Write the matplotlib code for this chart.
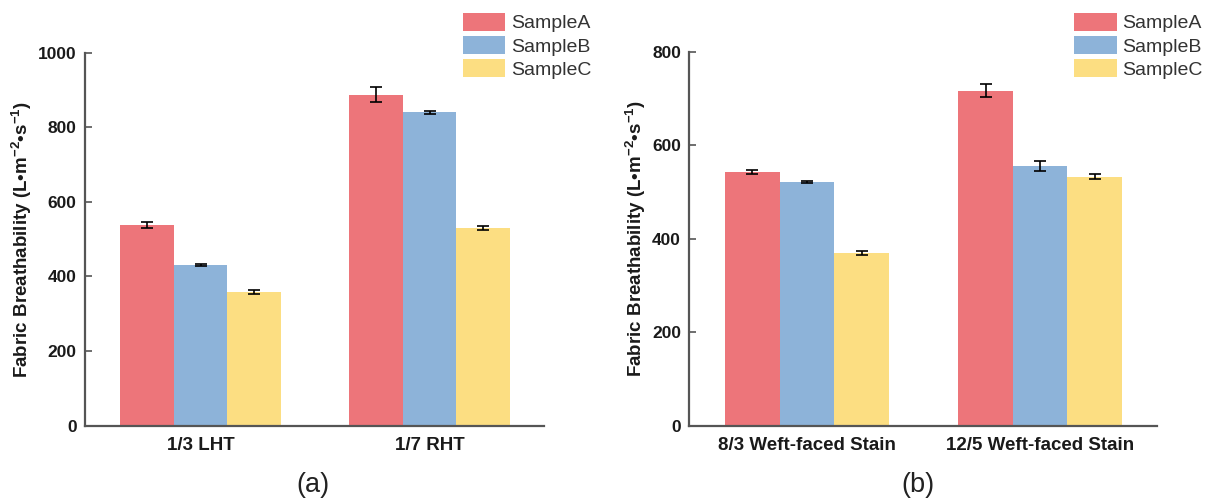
import numpy as np
import matplotlib
matplotlib.use("Agg")
import matplotlib.pyplot as plt

plt.rcParams['font.family'] = ['Liberation Sans', 'DejaVu Sans']
plt.rcParams['mathtext.fontset'] = 'custom'
plt.rcParams['mathtext.rm'] = 'Liberation Sans'
plt.rcParams['mathtext.bf'] = 'Liberation Sans:bold'

# ---- data (a) ----
cats_a = ['1/3 LHT', '1/7 RHT']
a_sampleA = [538, 887]
a_sampleB = [430, 840]
a_sampleC = [359, 531]
a_errA = [7, 20]
a_errB = [3, 5]
a_errC = [5, 5]

# ---- data (b) ----
cats_b = ['8/3 Weft-faced Stain', '12/5 Weft-faced Stain']
b_sampleA = [543, 717]
b_sampleB = [521, 556]
b_sampleC = [370, 533]
b_errA = [4, 13]
b_errB = [2, 11]
b_errC = [4, 6]

series_names = ['SampleA', 'SampleB', 'SampleC']
colors = ['#ED757A', '#8DB3D9', '#FCDE82']
spine_col = '#555555'

fig = plt.figure(figsize=(12.09, 5.03), dpi=100)
ax1 = fig.add_axes([0.0703, 0.1537, 0.3797, 0.7415])
ax2 = fig.add_axes([0.5701, 0.1531, 0.3866, 0.7441])


def draw(ax, cats, vals, errs, ymax, legend_x):
    x = np.arange(len(cats))
    w = 0.234
    for i, (v, e) in enumerate(zip(vals, errs)):
        ax.bar(x + (i - 1) * w, v, w, color=colors[i], label=series_names[i],
               yerr=e, capsize=4.5,
               error_kw=dict(ecolor='black', elinewidth=1.2, capthick=1.2))
    ax.set_xlim(-0.505, 1.5)
    ax.set_ylim(0, ymax)
    ax.set_yticks(np.arange(0, ymax + 1, 200))
    ax.set_xticks(x)
    ax.set_xticklabels(cats)
    for s in ['top', 'right']:
        ax.spines[s].set_visible(False)
    for s in ['left', 'bottom']:
        ax.spines[s].set_color(spine_col)
        ax.spines[s].set_linewidth(1.6)
    ax.tick_params(axis='y', direction='in', length=5, width=1.2, color=spine_col,
                   pad=6, labelsize=12.5)
    ax.tick_params(axis='x', length=0, pad=8, labelsize=13.5)
    for lab in ax.get_xticklabels() + ax.get_yticklabels():
        lab.set_fontweight('bold')
        lab.set_color('#1a1a1a')
    ax.set_ylabel(r'Fabric Breathability (L•m$^{\mathbf{-2}}$•s$^{\mathbf{-1}}$)',
                  fontsize=13.5, fontweight='bold', color='#1a1a1a', labelpad=3)
    ax.legend(loc='upper left', bbox_to_anchor=(legend_x, 1 - 12.7 / 503),
              bbox_transform=fig.transFigure, frameon=False, fontsize=14,
              borderpad=0, borderaxespad=0, handlelength=2.2, handleheight=1.05,
              labelspacing=0.18, handletextpad=0.3, labelcolor='#333333')


draw(ax1, cats_a, [a_sampleA, a_sampleB, a_sampleC], [a_errA, a_errB, a_errC], 1000, 462.7 / 1209)
draw(ax2, cats_b, [b_sampleA, b_sampleB, b_sampleC], [b_errA, b_errB, b_errC], 800, 1074 / 1209)

fig.text(313 / 1209, 1 - 485 / 503, '(a)', ha='center', va='center', fontsize=19.5, color='#222222')
fig.text(918 / 1209, 1 - 485 / 503, '(b)', ha='center', va='center', fontsize=19.5, color='#222222')

fig.savefig('out.png', dpi=100)
